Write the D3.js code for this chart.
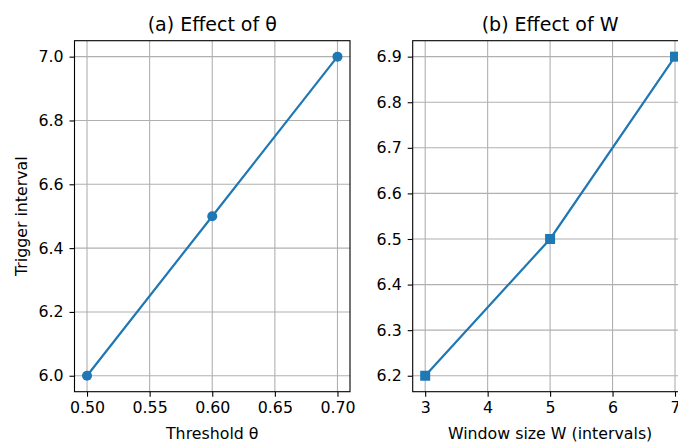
<!DOCTYPE html>
<html><head><meta charset="utf-8">
<script src="https://cdn.jsdelivr.net/npm/d3@7"></script>
<style>body{margin:0;background:#fff}svg{display:block}text{font-family:"DejaVu Sans",sans-serif;fill:#000}</style>
</head><body>
<script>
const thetaX = [0.5, 0.6, 0.7];
const thetaY = [6.0, 6.5, 7.0];
const thetaXTicks = [0.50, 0.55, 0.60, 0.65, 0.70];
const thetaYTicks = [6.0, 6.2, 6.4, 6.6, 6.8, 7.0];
const winX = [3, 5, 7];
const winY = [6.2, 6.5, 6.9];
const winXTicks = [3, 4, 5, 6, 7];
const winYTicks = [6.2, 6.3, 6.4, 6.5, 6.6, 6.7, 6.8, 6.9];

const W = 678, H = 443;
const svg = d3.select("body").append("svg").attr("width", W).attr("height", H);
const color = "#1f77b4";
const yTop = 40.7, yBot = 391.7;
const fs = 15.8;

function panel(opt) {
  const g = svg.append("g");
  const x = d3.scaleLinear().domain(opt.xd).range([opt.left, opt.right]);
  const y = d3.scaleLinear().domain(opt.yd).range([yBot, yTop]);
  const clipId = "clip" + opt.id;
  svg.append("clipPath").attr("id", clipId).append("rect")
    .attr("x", opt.left).attr("y", yTop).attr("width", opt.right - opt.left).attr("height", yBot - yTop);
  const gg = g.append("g").attr("clip-path", `url(#${clipId})`);
  gg.selectAll(".gx").data(opt.xt).join("line")
    .attr("x1", d => x(d)).attr("x2", d => x(d)).attr("y1", yTop).attr("y2", yBot)
    .attr("stroke", "#b0b0b0").attr("stroke-width", 1.1);
  gg.selectAll(".gy").data(opt.yt).join("line")
    .attr("x1", opt.left).attr("x2", opt.right).attr("y1", d => y(d)).attr("y2", d => y(d))
    .attr("stroke", "#b0b0b0").attr("stroke-width", 1.1);
  const xa = d3.axisBottom(x).tickValues(opt.xt).tickFormat(opt.xf).tickSize(5).tickPadding(5);
  const ya = d3.axisLeft(y).tickValues(opt.yt).tickFormat(d3.format(".1f")).tickSize(5).tickPadding(6);
  const gx = g.append("g").attr("transform", `translate(0,${yBot})`).call(xa);
  const gy = g.append("g").attr("transform", `translate(${opt.left},0)`).call(ya);
  [gx, gy].forEach(a => {
    a.select(".domain").remove();
    a.selectAll("line").attr("stroke", "#000").attr("stroke-width", 1.1);
    a.selectAll("text").attr("font-size", fs).attr("font-family", "DejaVu Sans").attr("fill", "#000");
  });
  const pts = opt.xs.map((v, i) => [v, opt.ys[i]]);
  svg.append("clipPath").attr("id", clipId + "o").append("rect")
    .attr("x", opt.left - 10).attr("y", yTop - 10).attr("width", opt.right - opt.left + 20).attr("height", yBot - yTop + 20);
  const dg = g.append("g").attr("clip-path", `url(#${clipId}o)`);
  dg.append("path").datum(pts)
    .attr("d", d3.line().x(d => x(d[0])).y(d => y(d[1])))
    .attr("fill", "none").attr("stroke", color).attr("stroke-width", 2.2);
  if (opt.marker === "circle") {
    dg.selectAll(".m").data(pts).join("circle")
      .attr("cx", d => x(d[0])).attr("cy", d => y(d[1])).attr("r", 5).attr("fill", color);
  } else {
    dg.selectAll(".m").data(pts).join("rect")
      .attr("x", d => x(d[0]) - 5).attr("y", d => y(d[1]) - 5).attr("width", 10).attr("height", 10).attr("fill", color);
  }
  g.append("rect").attr("x", opt.left).attr("y", yTop).attr("width", opt.right - opt.left).attr("height", yBot - yTop)
    .attr("fill", "none").attr("stroke", "#000").attr("stroke-width", 1.1);
  const cx = (opt.left + opt.right) / 2;
  g.append("text").attr("x", cx).attr("y", 31).attr("text-anchor", "middle").attr("font-size", 19).text(opt.title);
  g.append("text").attr("x", cx).attr("y", 438.5).attr("text-anchor", "middle").attr("font-size", fs).text(opt.xlabel);
  if (opt.ylabel) {
    g.append("text").attr("transform", `translate(26.5,${(yTop + yBot) / 2}) rotate(-90)`)
      .attr("text-anchor", "middle").attr("font-size", fs).text(opt.ylabel);
  }
}

panel({id: "a", left: 74.5, right: 350, xd: [0.49, 0.71], yd: [5.95, 7.05],
  xt: thetaXTicks, yt: thetaYTicks, xf: d3.format(".2f"), xs: thetaX, ys: thetaY,
  marker: "circle", title: "(a) Effect of θ", xlabel: "Threshold θ", ylabel: "Trigger interval"});
panel({id: "b", left: 412.7, right: 687.5, xd: [2.8, 7.2], yd: [6.165, 6.935],
  xt: winXTicks, yt: winYTicks, xf: d3.format("d"), xs: winX, ys: winY,
  marker: "square", title: "(b) Effect of W", xlabel: "Window size W (intervals)"});
</script>
</body></html>
